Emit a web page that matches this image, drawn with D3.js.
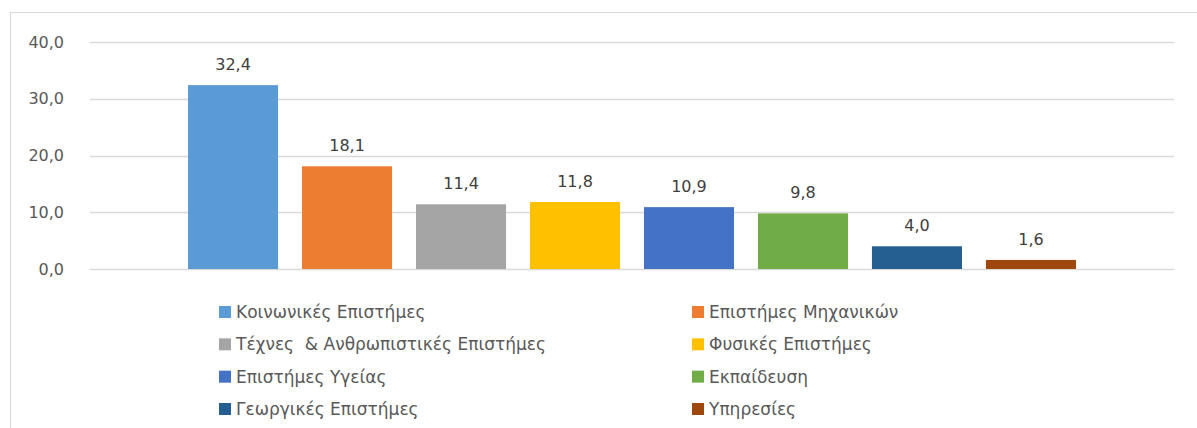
<!DOCTYPE html>
<html>
<head>
<meta charset="utf-8">
<script src="https://cdn.jsdelivr.net/npm/d3@7"></script>
<style>
  body { margin: 0; background: #fff; }
  svg { display: block; font-family: "DejaVu Sans", sans-serif; }
</style>
</head>
<body>
<svg id="chart" width="1197" height="428"></svg>
<script>
// data
const categories = [
  "Κοινωνικές Επιστήμες",
  "Επιστήμες Μηχανικών",
  "Τέχνες  & Ανθρωπιστικές Επιστήμες",
  "Φυσικές Επιστήμες",
  "Επιστήμες Υγείας",
  "Εκπαίδευση",
  "Γεωργικές Επιστήμες",
  "Υπηρεσίες"
];
const values = [32.4, 18.1, 11.4, 11.8, 10.9, 9.8, 4.0, 1.6];
const colors = ["#5B9BD5", "#ED7D31", "#A5A5A5", "#FFC000", "#4472C4", "#70AD47", "#255E91", "#9E480E"];
const yTicks = [0, 10, 20, 30, 40];

const svg = d3.select("#chart");
const textColor = "#595959";
const fmt = v => v.toFixed(1).replace(".", ",");

// outer frame
svg.append("rect")
  .attr("x", 10.5).attr("y", 12.5)
  .attr("width", 1200).attr("height", 430)
  .attr("fill", "none")
  .attr("stroke", "#D9D9D9");

const x = d3.scaleBand()
  .domain(categories)
  .range([90, 1174])
  .paddingInner(0.21)
  .paddingOuter(0.86);

const y = d3.scaleLinear()
  .domain([0, 40])
  .range([269, 42]);

// gridlines
svg.append("g")
  .selectAll("line")
  .data(yTicks)
  .join("line")
  .attr("x1", 90).attr("x2", 1174)
  .attr("y1", d => Math.round(y(d)) + 0.5)
  .attr("y2", d => Math.round(y(d)) + 0.5)
  .attr("stroke", "#D9D9D9")
  .attr("stroke-width", 1.5);

// y axis labels
const yAxis = svg.append("g")
  .attr("transform", "translate(64,0)")
  .call(d3.axisLeft(y).tickValues(yTicks).tickFormat(fmt).tickSize(0).tickPadding(0));
yAxis.select(".domain").remove();
yAxis.selectAll("text")
  .attr("fill", textColor)
  .style("font-size", "16px")
  .style("font-family", "DejaVu Sans, sans-serif");

// bars
svg.append("g")
  .selectAll("rect")
  .data(values)
  .join("rect")
  .attr("x", (d, i) => x(categories[i]))
  .attr("y", d => y(d))
  .attr("width", x.bandwidth())
  .attr("height", d => y(0) - y(d))
  .attr("fill", (d, i) => colors[i]);

// value labels
svg.append("g")
  .selectAll("text")
  .data(values)
  .join("text")
  .attr("x", (d, i) => x(categories[i]) + x.bandwidth() / 2)
  .attr("y", d => y(d) - 15)
  .attr("text-anchor", "middle")
  .attr("fill", "#404040")
  .style("font-size", "16px")
  .text(fmt);

// legend, two columns
const legendX = [219, 692];
const legendY = d3.scalePoint().domain(d3.range(4)).range([312, 409]);

const items = svg.append("g")
  .selectAll("g")
  .data(categories)
  .join("g")
  .attr("transform", (d, i) => `translate(${legendX[i % 2]},${legendY(Math.floor(i / 2))})`);

items.append("rect")
  .attr("x", 0).attr("y", -6)
  .attr("width", 12).attr("height", 12)
  .attr("fill", (d, i) => colors[i]);

items.append("text")
  .attr("x", 17)
  .attr("dy", "0.35em")
  .attr("fill", textColor)
  .style("font-size", "17px")
  .style("white-space", "pre")
  .attr("xml:space", "preserve")
  .text(d => d);
</script>
</body>
</html>
